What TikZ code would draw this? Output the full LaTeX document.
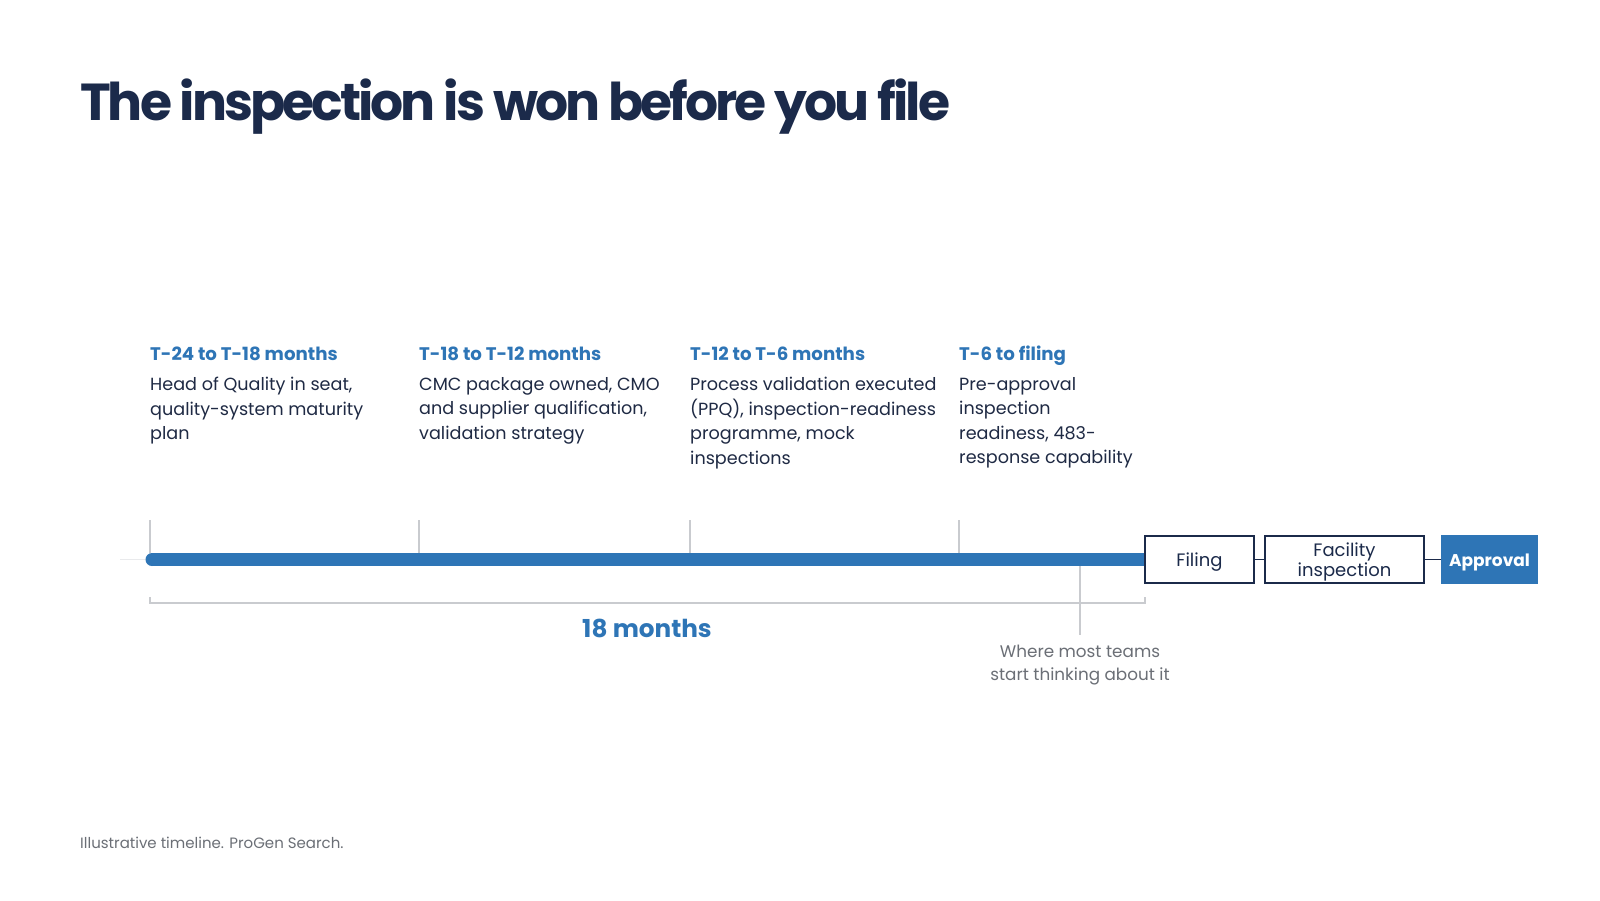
\documentclass[tikz,border=0pt]{standalone}
\usepackage{fontspec}
\setmainfont{Poppins}
\definecolor{colorTitle}{HTML}{1B2A4A}
\definecolor{colorBlue}{HTML}{2E75B6}
\definecolor{colorText}{HTML}{1F2A44}
\definecolor{colorTick}{HTML}{C9CBCF}
\definecolor{colorNote}{HTML}{6B6F76}
\tikzset{
   phasehead/.style={anchor=base west,inner sep=0,text=colorBlue,font=\fontsize{18.2}{23}\selectfont\bfseries},
   phasebody/.style={anchor=north west,inner sep=0,align=left,text=colorText,font=\fontsize{17.6}{24.5}\selectfont},
   tickline/.style={color=colorTick,line width=1.2pt},
   bar/.style={color=colorBlue,line width=13pt},
   stage/.style={draw=colorTitle,fill=white,line width=1.2pt,text=colorTitle,minimum height=47pt,inner sep=0,align=center,font=\fontsize{18}{20}\selectfont},
   link/.style={color=colorTitle,line width=1.5pt},
   note/.style={inner sep=0,align=center,text=colorNote,font=\fontsize{16.8}{22.5}\selectfont},
 }
\newcommand{\dtick}[1]{\draw[tickline] (#1) -- ++(0,33)}
\newcommand{\dlink}[2]{\draw[link] (#1) -- (#2)}
\newcommand{\lowtext}[1]{\raisebox{-2.5pt}[\height][\depth]{#1}}

\begin{document}
\begin{tikzpicture}[x=1pt,y=-1pt]
      \useasboundingbox[fill=white] (0,0) rectangle (1600,900);

      \node[anchor=base west,inner sep=0,text=colorTitle,font=\fontsize{52}{60}\selectfont\bfseries\addfontfeatures{LetterSpace=-5.8}] (title) at (80,120) {The inspection is won before you file};

      % phases
      \node[phasehead] (P1H) at (150,360) {T-24 to T-18 months};
      \node[phasebody] (P1B) at (150,377) {Head of Quality in seat,\\quality-system maturity\\plan};
      \node[phasehead] (P2H) at (419,360) {T-18 to T-12 months};
      \node[phasebody] (P2B) at (419,377) {CMC package owned, CMO\\and supplier qualification,\\validation strategy};
      \node[phasehead] (P3H) at (690,360) {T-12 to T-6 months};
      \node[phasebody] (P3B) at (690,377) {Process validation executed\\(PPQ), inspection-readiness\\programme, mock\\inspections};
      \node[phasehead] (P4H) at (959,360) {T-6 to filing};
      \node[phasebody] (P4B) at (959,377) {Pre-approval\\inspection\\readiness, 483-\\response capability};

      \coordinate (T1) at (150,520);
      \coordinate (T2) at (419,520);
      \coordinate (T3) at (690,520);
      \coordinate (T4) at (959,520);
      \dtick{T1}; \dtick{T2}; \dtick{T3}; \dtick{T4};

      % stages
      \node[stage,minimum width=109pt] (filing) at (1199.5,559.5) {\lowtext{Filing}};
      \node[stage,minimum width=159pt] (facility) at (1344.5,559.5) {\lowtext{Facility}\\\lowtext{inspection}};
      \node[stage,minimum width=95pt,fill=colorBlue,draw=colorBlue,text=white,font=\fontsize{17}{20}\selectfont\bfseries] (approval) at (1489.5,559.5) {\lowtext{Approval}};
      \dlink{filing.east}{facility.west};
      \dlink{facility.east}{approval.west};

      % timeline
      \coordinate (lead) at (120,559.5);
      \coordinate (start) at (152,559.5);
      \draw[colorTick!40,line width=1pt] (lead) -- (start);
      \draw[bar] (start) -- (filing.west);
      \fill[colorBlue] (start) circle (6.5pt);

      % span bracket
      \coordinate (brL) at (150,597);
      \coordinate (brR) at (1145,597);
      \draw[tickline] (brL) -- ++(0,6) -| (brR);
      \node[inner sep=0,text=colorBlue,font=\fontsize{24.7}{28}\selectfont\bfseries] (span) at (647,628) {18 months};

      % where teams start
      \coordinate (late) at (1080,566);
      \node[note,anchor=north] (where) at (1080,645) {Where most teams\\start thinking about it};
      \draw[tickline] (late) -- (1080,635);

      \node[anchor=base west,inner sep=0,text=colorNote,font=\fontsize{15}{17}\selectfont] (source) at (80,848) {Illustrative timeline. ProGen Search.};
    \end{tikzpicture}
\end{document}
